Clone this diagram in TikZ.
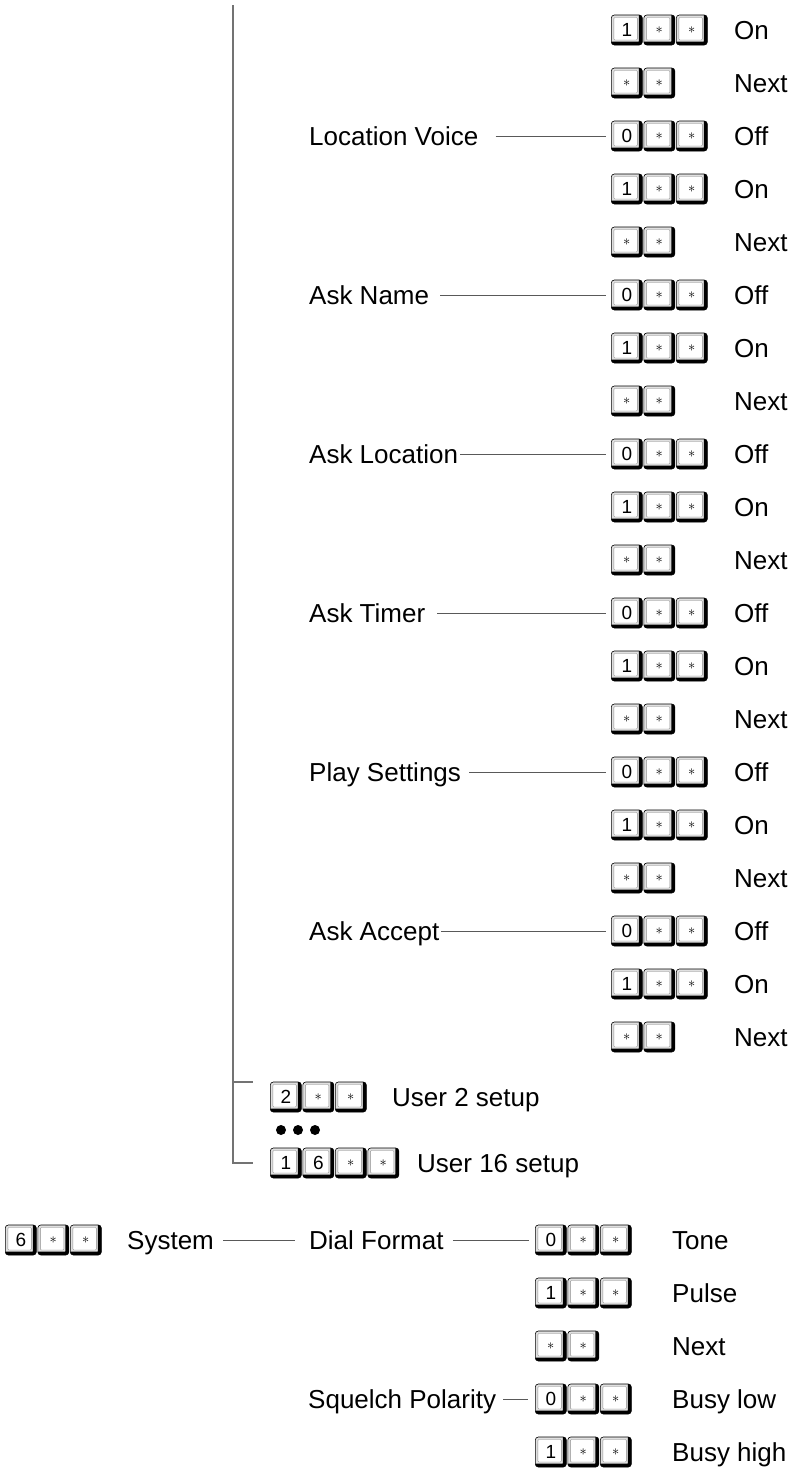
\documentclass[tikz,border=0pt]{standalone}
\usepackage{fontspec}
\setmainfont{Liberation Sans}
\newcommand\ka{{\fontsize{15}{15}\selectfont$\ast$}}
\newcommand\keyrow[4]{% name, x, y, list
  \foreach \c [count=\i] in {#4}{%
    \node[keycap] (#1-\i) at ({#2+(\i-1)*32.5},#3) {\c};
  }}
\begin{document}
\begin{tikzpicture}[x=1pt,y=-1pt,
  keycap/.style={draw=black, line width=0.6pt, rounded corners=3pt, fill=black!12,
    minimum width=31pt, minimum height=30pt, inner sep=0pt, anchor=west,
    font=\fontsize{19}{19}\selectfont,
    path picture={
      \draw[line width=7pt, black, rounded corners=3pt]
        (path picture bounding box.south west) -- (path picture bounding box.south east)
        -- (path picture bounding box.north east);
      \draw[black!45, line width=0.4pt, fill=white, rounded corners=1pt]
        ([shift={(2.5pt,-2.5pt)}]path picture bounding box.north west) rectangle
        ([shift={(-5pt,5pt)}]path picture bounding box.south east);
    }},
  lab/.style={font=\fontsize{26}{30}\selectfont, anchor=base west, inner sep=0pt},
  conn/.style={draw=black!65, line width=1pt},
  trunk/.style={draw=black!55, line width=1.5pt},
  bullet/.style={circle, fill=black, inner sep=0pt, minimum size=10pt}]
\useasboundingbox (0,0) rectangle (791,1470);

% top two rows
\keyrow{a0}{611}{30}{1,\ka,\ka}
\node[lab] (a0-t) at (734,39.5) {On};
\keyrow{a1}{611}{83}{\ka,\ka}
\node[lab] (a1-t) at (734,92.5) {Next};

% option groups
\foreach \name/\gap [count=\j from 0] in {Location Voice/17, Ask Name/11, Ask Location/2, Ask Timer/12, Play Settings/8, Ask Accept/2}{
  \pgfmathsetmacro\yoff{136+159*\j}
  \pgfmathsetmacro\yon{\yoff+53}
  \pgfmathsetmacro\ynx{\yoff+106}
  \keyrow{off\j}{611}{\yoff}{0,\ka,\ka}
  \node[lab] (off\j-t) at (734,{\yoff+9.5}) {Off};
  \keyrow{on\j}{611}{\yon}{1,\ka,\ka}
  \node[lab] (on\j-t) at (734,{\yon+9.5}) {On};
  \keyrow{nx\j}{611}{\ynx}{\ka,\ka}
  \node[lab] (nx\j-t) at (734,{\ynx+9.5}) {Next};
  \node[lab] (g\j) at (309,{\yoff+9.5}) {\name};
  \draw[conn, shorten <=\gap pt, shorten >=5pt] (g\j.east |- off\j-1.west) -- (off\j-1.west);
}

% users
\coordinate (ttop) at (233,5);
\coordinate (tbot) at (233,1163);
\coordinate (u2tick) at (233,1082);
\keyrow{u2}{270}{1097}{2,\ka,\ka}
\node[lab] (u2-t) at (392,1106.5) {User 2 setup};
\node[bullet] (d1) at (281,1130) {};
\node[bullet] (d2) at (298,1130) {};
\node[bullet] (d3) at (315,1130) {};
\keyrow{u16}{270}{1163}{1,6,\ka,\ka}
\node[lab] (u16-t) at (417,1172.5) {User 16 setup};
\draw[trunk] (ttop) -- (tbot) -- ([xshift=-17pt]u16-1.west);
\draw[trunk] (u2tick) -- ([xshift=-17pt]u2-1.west |- u2tick);

% system
\keyrow{sys}{5}{1240}{6,\ka,\ka}
\node[lab] (system) at (127,1249.5) {System};
\node[lab] (dial) at (309,1249.5) {Dial Format};
\keyrow{tone}{535}{1240}{0,\ka,\ka}
\node[lab] (tone-t) at (672,1249.5) {Tone};
\keyrow{pulse}{535}{1293}{1,\ka,\ka}
\node[lab] (pulse-t) at (672,1302.5) {Pulse};
\keyrow{snx}{535}{1346}{\ka,\ka}
\node[lab] (snx-t) at (672,1355.5) {Next};
\node[lab] (sq) at (308,1408.5) {Squelch Polarity};
\keyrow{low}{535}{1399}{0,\ka,\ka}
\node[lab] (low-t) at (672,1408.5) {Busy low};
\keyrow{high}{535}{1452}{1,\ka,\ka}
\node[lab] (high-t) at (672,1461.5) {Busy high};

\draw[conn, shorten <=9pt, shorten >=14pt] (system.east |- sys-1.west) -- (dial.west |- sys-1.west);
\draw[conn, shorten <=9pt, shorten >=6pt] (dial.east |- tone-1.west) -- (tone-1.west);
\draw[conn, shorten <=7pt, shorten >=7pt] (sq.east |- low-1.west) -- (low-1.west);
\end{tikzpicture}
\end{document}
